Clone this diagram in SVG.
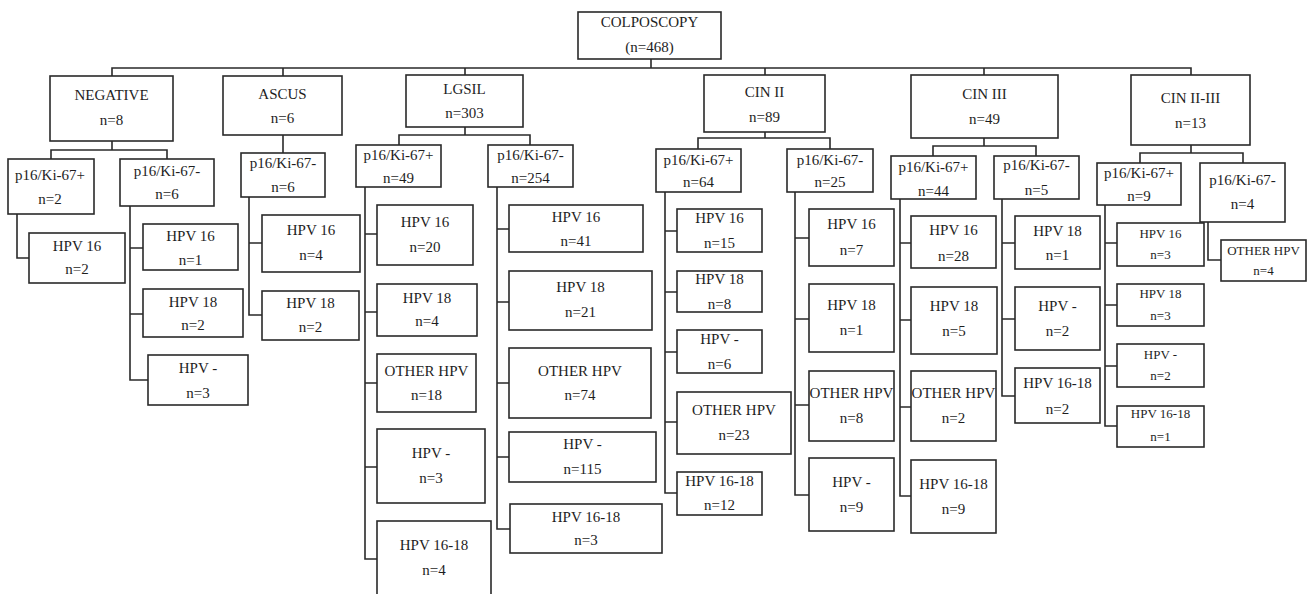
<svg xmlns="http://www.w3.org/2000/svg" width="1308" height="594" viewBox="0 0 1308 594">
<style>
.b{fill:#fff;stroke:#2a2a2a;stroke-width:1.6}
.c{fill:none;stroke:#2a2a2a;stroke-width:1.6}
text{font-family:"Liberation Serif","Times New Roman",serif;font-size:15px;fill:#1e1e1e;text-anchor:middle}
.s{font-size:13px}
</style>
<rect width="1308" height="594" fill="#fff"/>
<g id="connectors" class="c">
<path d="M651 59V68M112 76V68H1191V75M283 68V76M465 68V75M765 68V75M984 68V75"/>
<path d="M112 141V150M51 159V150H167V159"/>
<path d="M283 135V153"/>
<path d="M465 127V135M399 145V135H530V145"/>
<path d="M765 132V138M698 149V138H830V149"/>
<path d="M984 138V146M933 156V146H1036V156"/>
<path d="M1191 145V153M1140 163V153H1243V163"/>
<path d="M17 214V258H29"/>
<path d="M130 206V380H148M130 248H143M130 314H143"/>
<path d="M249 197V315H262M249 243H262"/>
<path d="M365 187V559H377M365 234H377M365 312H377M365 383H377M365 467H377"/>
<path d="M497 187V529H510M497 229H509M497 302H509M497 383H509M497 457H509"/>
<path d="M665 192V493H677M665 231H677M665 292H677M665 352H677M665 422H677"/>
<path d="M795 192V495H809M795 238H809M795 319H809M795 405H809"/>
<path d="M900 199V496H911M900 243H911M900 320H911M900 407H911"/>
<path d="M1002 199V396H1015M1002 243H1015M1002 319H1015"/>
<path d="M1105 205V426H1117M1105 243H1117M1105 305H1117M1105 366H1117"/>
<path d="M1208 222V260H1221"/>
</g>
<g id="root"><rect class="b" x="578" y="12" width="143" height="47"/><text x="649.5" y="27">COLPOSCOPY</text><text x="649.5" y="52">(n=468)</text></g>
<g id="negative"><rect class="b" x="50" y="76" width="123" height="65"/><text x="111.5" y="100">NEGATIVE</text><text x="111.5" y="125">n=8</text></g>
<g id="ascus"><rect class="b" x="223" y="76" width="119" height="59"/><text x="282.5" y="99">ASCUS</text><text x="282.5" y="123">n=6</text></g>
<g id="lgsil"><rect class="b" x="406" y="75" width="117" height="52"/><text x="464.5" y="94">LGSIL</text><text x="464.5" y="118">n=303</text></g>
<g id="cin2"><rect class="b" x="704" y="75" width="121" height="57"/><text x="764.5" y="97">CIN II</text><text x="764.5" y="122">n=89</text></g>
<g id="cin3"><rect class="b" x="911" y="75" width="147" height="63"/><text x="984.5" y="99">CIN III</text><text x="984.5" y="124">n=49</text></g>
<g id="cin23"><rect class="b" x="1131" y="75" width="119" height="70"/><text x="1190.5" y="103">CIN II-III</text><text x="1190.5" y="128">n=13</text></g>
<g id="neg-pos"><rect class="b" x="8" y="159" width="86" height="55"/><text x="50" y="180">p16/Ki-67+</text><text x="50" y="204">n=2</text></g>
<g id="neg-neg"><rect class="b" x="120" y="159" width="94" height="47"/><text x="167" y="176">p16/Ki-67-</text><text x="167" y="199">n=6</text></g>
<g id="ascus-neg"><rect class="b" x="241" y="153" width="84" height="44"/><text x="283" y="168">p16/Ki-67-</text><text x="283" y="192">n=6</text></g>
<g id="lgsil-pos"><rect class="b" x="356" y="145" width="85" height="42"/><text x="398.5" y="160">p16/Ki-67+</text><text x="398.5" y="183">n=49</text></g>
<g id="lgsil-neg"><rect class="b" x="488" y="145" width="85" height="42"/><text x="530.5" y="160">p16/Ki-67-</text><text x="530.5" y="183">n=254</text></g>
<g id="cin2-pos"><rect class="b" x="656" y="149" width="85" height="43"/><text x="698.5" y="165">p16/Ki-67+</text><text x="698.5" y="187">n=64</text></g>
<g id="cin2-neg"><rect class="b" x="787" y="149" width="86" height="43"/><text x="830" y="165">p16/Ki-67-</text><text x="830" y="187">n=25</text></g>
<g id="cin3-pos"><rect class="b" x="891" y="156" width="85" height="43"/><text x="933.5" y="172">p16/Ki-67+</text><text x="933.5" y="196">n=44</text></g>
<g id="cin3-neg"><rect class="b" x="994" y="156" width="85" height="43"/><text x="1036.5" y="170">p16/Ki-67-</text><text x="1036.5" y="195">n=5</text></g>
<g id="cin23-pos"><rect class="b" x="1097" y="163" width="84" height="42"/><text x="1139" y="178">p16/Ki-67+</text><text x="1139" y="201">n=9</text></g>
<g id="cin23-neg"><rect class="b" x="1200" y="163" width="85" height="59"/><text x="1242.5" y="185">p16/Ki-67-</text><text x="1242.5" y="209">n=4</text></g>
<g id="neg-pos-hpv16"><rect class="b" x="29" y="233" width="96" height="50"/><text x="77" y="251">HPV 16</text><text x="77" y="274">n=2</text></g>
<g id="neg-neg-hpv16"><rect class="b" x="143" y="224" width="95" height="46"/><text x="190.5" y="241">HPV 16</text><text x="190.5" y="265">n=1</text></g>
<g id="neg-neg-hpv18"><rect class="b" x="143" y="289" width="100" height="48"/><text x="193" y="307">HPV 18</text><text x="193" y="330">n=2</text></g>
<g id="neg-neg-hpvneg"><rect class="b" x="148" y="355" width="100" height="50"/><text x="198" y="373">HPV -</text><text x="198" y="398">n=3</text></g>
<g id="ascus-hpv16"><rect class="b" x="262" y="215" width="98" height="57"/><text x="311" y="235">HPV 16</text><text x="311" y="260">n=4</text></g>
<g id="ascus-hpv18"><rect class="b" x="262" y="291" width="97" height="49"/><text x="310.5" y="308">HPV 18</text><text x="310.5" y="332">n=2</text></g>
<g id="lp-hpv16"><rect class="b" x="377" y="205" width="96" height="60"/><text x="425" y="227">HPV 16</text><text x="425" y="252">n=20</text></g>
<g id="lp-hpv18"><rect class="b" x="377" y="284" width="100" height="52"/><text x="427" y="303">HPV 18</text><text x="427" y="326">n=4</text></g>
<g id="lp-other"><rect class="b" x="377" y="354" width="99" height="58"/><text x="426.5" y="376">OTHER HPV</text><text x="426.5" y="400">n=18</text></g>
<g id="lp-hpvneg"><rect class="b" x="377" y="429" width="108" height="74"/><text x="431" y="458">HPV -</text><text x="431" y="483">n=3</text></g>
<g id="lp-hpv1618"><rect class="b" x="377" y="521" width="114" height="80"/><text x="434" y="550">HPV 16-18</text><text x="434" y="575">n=4</text></g>
<g id="ln-hpv16"><rect class="b" x="509" y="205" width="134" height="47"/><text x="576" y="222">HPV 16</text><text x="576" y="246">n=41</text></g>
<g id="ln-hpv18"><rect class="b" x="509" y="271" width="143" height="59"/><text x="580.5" y="292">HPV 18</text><text x="580.5" y="317">n=21</text></g>
<g id="ln-other"><rect class="b" x="509" y="348" width="142" height="70"/><text x="580" y="376">OTHER HPV</text><text x="580" y="400">n=74</text></g>
<g id="ln-hpvneg"><rect class="b" x="509" y="432" width="147" height="50"/><text x="582.5" y="449">HPV -</text><text x="582.5" y="474">n=115</text></g>
<g id="ln-hpv1618"><rect class="b" x="510" y="504" width="152" height="49"/><text x="586" y="522">HPV 16-18</text><text x="586" y="545">n=3</text></g>
<g id="c2p-hpv16"><rect class="b" x="677" y="209" width="85" height="43"/><text x="719.5" y="223">HPV 16</text><text x="719.5" y="248">n=15</text></g>
<g id="c2p-hpv18"><rect class="b" x="677" y="271" width="85" height="41"/><text x="719.5" y="284">HPV 18</text><text x="719.5" y="309">n=8</text></g>
<g id="c2p-hpvneg"><rect class="b" x="677" y="330" width="85" height="43"/><text x="719.5" y="344">HPV -</text><text x="719.5" y="369">n=6</text></g>
<g id="c2p-other"><rect class="b" x="677" y="392" width="114" height="62"/><text x="734" y="415">OTHER HPV</text><text x="734" y="440">n=23</text></g>
<g id="c2p-hpv1618"><rect class="b" x="677" y="472" width="85" height="43"/><text x="719.5" y="486">HPV 16-18</text><text x="719.5" y="510">n=12</text></g>
<g id="c2n-hpv16"><rect class="b" x="809" y="209" width="85" height="57"/><text x="851.5" y="229">HPV 16</text><text x="851.5" y="255">n=7</text></g>
<g id="c2n-hpv18"><rect class="b" x="809" y="284" width="85" height="68"/><text x="851.5" y="310">HPV 18</text><text x="851.5" y="335">n=1</text></g>
<g id="c2n-other"><rect class="b" x="809" y="371" width="85" height="70"/><text x="851.5" y="398">OTHER HPV</text><text x="851.5" y="423">n=8</text></g>
<g id="c2n-hpvneg"><rect class="b" x="809" y="458" width="85" height="73"/><text x="851.5" y="487">HPV -</text><text x="851.5" y="512">n=9</text></g>
<g id="c3p-hpv16"><rect class="b" x="911" y="216" width="85" height="52"/><text x="953.5" y="235">HPV 16</text><text x="953.5" y="261">n=28</text></g>
<g id="c3p-hpv18"><rect class="b" x="911" y="287" width="86" height="67"/><text x="954" y="311">HPV 18</text><text x="954" y="336">n=5</text></g>
<g id="c3p-other"><rect class="b" x="911" y="371" width="85" height="70"/><text x="953.5" y="398">OTHER HPV</text><text x="953.5" y="423">n=2</text></g>
<g id="c3p-hpv1618"><rect class="b" x="911" y="460" width="85" height="73"/><text x="953.5" y="489">HPV 16-18</text><text x="953.5" y="514">n=9</text></g>
<g id="c3n-hpv18"><rect class="b" x="1015" y="216" width="85" height="53"/><text x="1057.5" y="236">HPV 18</text><text x="1057.5" y="260">n=1</text></g>
<g id="c3n-hpvneg"><rect class="b" x="1015" y="287" width="85" height="63"/><text x="1057.5" y="311">HPV -</text><text x="1057.5" y="336">n=2</text></g>
<g id="c3n-hpv1618"><rect class="b" x="1015" y="368" width="85" height="55"/><text x="1057.5" y="388">HPV 16-18</text><text x="1057.5" y="414">n=2</text></g>
<g id="c23p-hpv16"><rect class="b" x="1117" y="223" width="87" height="43"/><text class="s" x="1160.5" y="238">HPV 16</text><text class="s" x="1160.5" y="259">n=3</text></g>
<g id="c23p-hpv18"><rect class="b" x="1117" y="284" width="87" height="42"/><text class="s" x="1160.5" y="298">HPV 18</text><text class="s" x="1160.5" y="320">n=3</text></g>
<g id="c23p-hpvneg"><rect class="b" x="1117" y="344" width="87" height="43"/><text class="s" x="1160.5" y="359">HPV -</text><text class="s" x="1160.5" y="380">n=2</text></g>
<g id="c23p-hpv1618"><rect class="b" x="1117" y="406" width="87" height="41"/><text class="s" x="1160.5" y="418">HPV 16-18</text><text class="s" x="1160.5" y="441">n=1</text></g>
<g id="c23n-other"><rect class="b" x="1221" y="240" width="85" height="41"/><text class="s" x="1263.5" y="255">OTHER HPV</text><text class="s" x="1263.5" y="275">n=4</text></g>
</svg>
